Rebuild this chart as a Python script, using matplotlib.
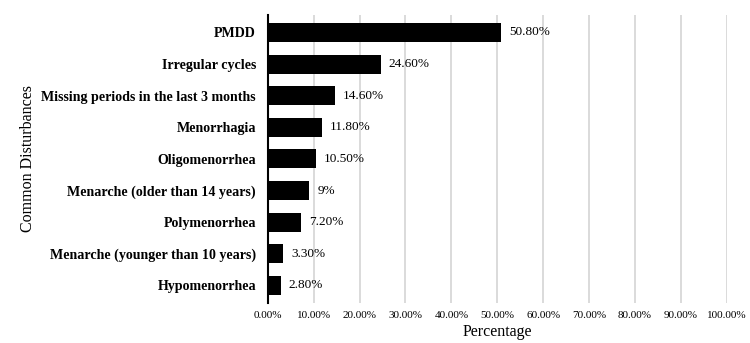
import matplotlib
matplotlib.use('Agg')
import matplotlib.pyplot as plt

categories = ['PMDD', 'Irregular cycles', 'Missing periods in the last 3 months',
              'Menorrhagia', 'Oligomenorrhea', 'Menarche (older than 14 years)',
              'Polymenorrhea', 'Menarche (younger than 10 years)', 'Hypomenorrhea']
values = [50.8, 24.6, 14.6, 11.8, 10.5, 9, 7.2, 3.3, 2.8]
value_labels = ['50.80%', '24.60%', '14.60%', '11.80%', '10.50%', '9%', '7.20%', '3.30%', '2.80%']
xticks = [0, 10, 20, 30, 40, 50, 60, 70, 80, 90, 100]
xtick_labels = ['%.2f%%' % t for t in xticks]

plt.rcParams['font.family'] = ['Liberation Serif', 'DejaVu Serif']

fig = plt.figure(figsize=(7.5, 3.43), dpi=100)
ax = fig.add_axes([0.357, 0.117, 0.612, 0.839])

ypos = list(range(len(categories)))[::-1]
ax.barh(ypos, values, height=0.6, color='black', zorder=3)
for y, v, lab in zip(ypos, values, value_labels):
    ax.text(v + 1.8, y, lab, va='center', ha='left', fontsize=9.5, color='black')

ax.set_xlim(0, 100)
ax.set_ylim(-0.55, len(categories) - 0.45)
ax.set_yticks(ypos)
ax.set_yticklabels(categories, fontsize=10.1, fontweight='bold')
ax.set_xticks(xticks)
ax.set_xticklabels(xtick_labels, fontsize=8)
ax.tick_params(axis='both', length=0)
ax.tick_params(axis='x', pad=6)
ax.tick_params(axis='y', pad=8.5)

ax.grid(axis='x', color='#d4d4d4', lw=1.2, zorder=0)
for s in ['top', 'right', 'bottom']:
    ax.spines[s].set_visible(False)
ax.spines['left'].set_linewidth(1.5)
ax.spines['left'].set_zorder(4)

ax.set_xlabel('Percentage', fontsize=11.5, labelpad=3)
ax.set_ylabel('Common Disturbances', fontsize=11.5)
ax.yaxis.set_label_coords(-0.505, 0.5)

plt.savefig('out.png', dpi=100)
